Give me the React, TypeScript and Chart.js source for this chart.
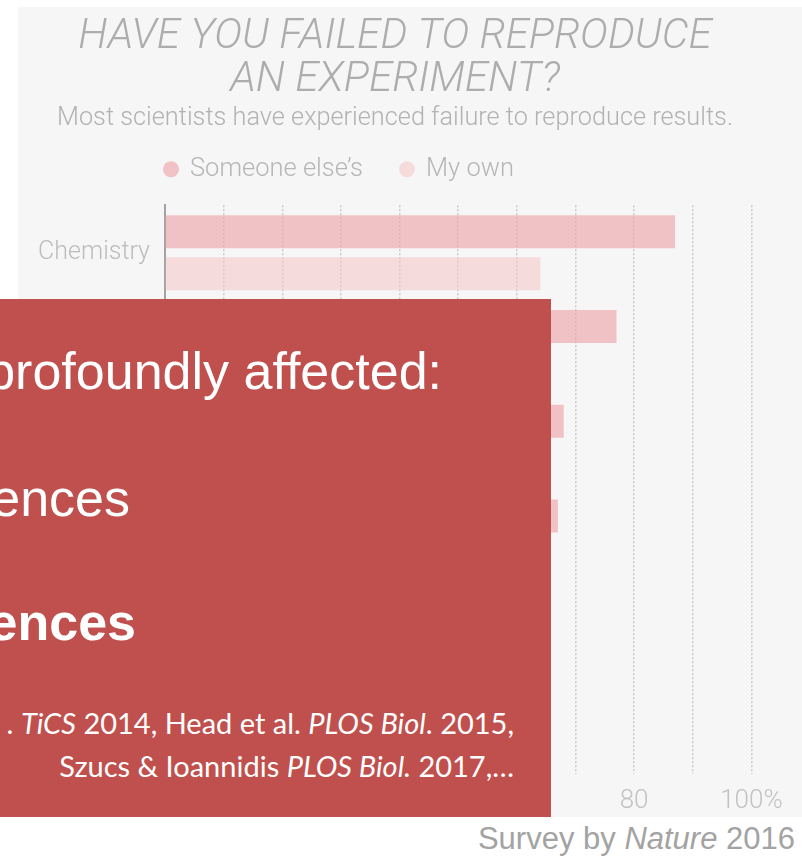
import React, { useEffect, useRef } from "react";
import { Chart, registerables } from "chart.js";

Chart.register(...registerables);

// Survey data: share of respondents who failed to reproduce an experiment
const categories = [
  "Chemistry",
  "Biology",
  "Physics and engineering",
  "Medicine",
  "Earth and environment",
  "Other",
];
const someoneElses = [87, 77, 68, 67, 64, 62];
const myOwn = [64, 60, 51, 56, 41, 44];
const seriesNames = ["Someone else\u2019s", "My own"];
const labeledTicks = [0, 20, 40, 60, 80, 100];
const titleLines = ["HAVE YOU FAILED TO REPRODUCE", "AN EXPERIMENT?"];
const subtitleText = "Most scientists have experienced failure to reproduce results.";

const CHART_FONT = "Roboto, 'Liberation Sans', sans-serif";

// Round dot legend sitting above the plot, aligned with the value axis origin
const dotLegend = {
  id: "dotLegend",
  afterDraw(chart: any) {
    const { ctx, chartArea } = chart;
    ctx.save();
    ctx.font = `300 25.5px ${CHART_FONT}`;
    ctx.textBaseline = "middle";
    ctx.textAlign = "left";
    let x = chartArea.left + 6;
    const y = chartArea.top - 36;
    chart.data.datasets.forEach((ds: any) => {
      ctx.fillStyle = ds.backgroundColor;
      ctx.beginPath();
      ctx.arc(x, y, 8, 0, Math.PI * 2);
      ctx.fill();
      ctx.fillStyle = "#b6b6b6";
      ctx.fillText(ds.label, x + 19, y);
      x += 19 + ctx.measureText(ds.label).width + 44;
    });
    ctx.restore();
  },
};

function ReproducibilityChart() {
  const ref = useRef<HTMLCanvasElement | null>(null);

  useEffect(() => {
    if (!ref.current) return;
    const chart = new Chart(ref.current, {
      type: "bar",
      data: {
        labels: categories,
        datasets: [
          {
            label: seriesNames[0],
            data: someoneElses,
            backgroundColor: "rgba(238,160,165,0.6)",
            categoryPercentage: 0.886,
            barPercentage: 0.786,
          },
          {
            label: seriesNames[1],
            data: myOwn,
            backgroundColor: "rgba(246,196,200,0.55)",
            categoryPercentage: 0.886,
            barPercentage: 0.786,
          },
        ],
      },
      options: {
        indexAxis: "y",
        responsive: false,
        animation: false,
        devicePixelRatio: 1,
        layout: { padding: 0 },
        plugins: {
          legend: { display: false },
          tooltip: { enabled: false },
          title: {
            display: true,
            text: titleLines,
            color: "#adadad",
            font: { family: CHART_FONT, size: 42.3, weight: "300", style: "italic", lineHeight: 1.02 },
            padding: { top: 16, bottom: 1.5 },
          },
          subtitle: {
            display: true,
            text: subtitleText,
            color: "#b2b2b2",
            font: { family: CHART_FONT, size: 25.3, weight: "300", lineHeight: 1.2 },
            padding: { top: 0, bottom: 71.1 },
          },
        },
        scales: {
          x: {
            min: 0,
            max: 100,
            grid: {
              drawTicks: false,
              lineWidth: 1.5,
              color: (c: any) => (c.tick && c.tick.value === 0 ? "rgba(0,0,0,0)" : "#cacaca"),
            },
            border: { display: false, dash: [2, 2] },
            ticks: {
              stepSize: 10,
              autoSkip: false,
              maxRotation: 0,
              padding: 12,
              color: "#c2c2c2",
              font: { family: CHART_FONT, size: 26, weight: "300" },
              callback: (v: any) =>
                labeledTicks.includes(Number(v)) ? (Number(v) === 100 ? "100%" : String(v)) : "",
            },
            afterFit: (scale: any) => {
              scale.height = 43;
              scale.paddingRight = 38.6;
              scale.paddingLeft = 0;
            },
          },
          y: {
            grid: { display: false, drawTicks: false },
            border: { display: true, color: "#a3a3a3", width: 2 },
            ticks: {
              padding: 15,
              color: "#bcbcbc",
              font: { family: CHART_FONT, size: 25, weight: "300" },
            },
            afterFit: (scale: any) => {
              scale.width = 165;
            },
          },
        },
      },
      plugins: [dotLegend],
    });
    return () => chart.destroy();
  }, []);

  return (
    <canvas
      ref={ref}
      width={790}
      height={817}
      style={{ position: "absolute", left: 0, top: 0, width: 790, height: 817 }}
    />
  );
}

const calloutText: React.CSSProperties = {
  position: "absolute",
  whiteSpace: "nowrap",
  color: "#ffffff",
  fontFamily: "'Liberation Sans', Arial, sans-serif",
  fontSize: 52,
  lineHeight: "52px",
};

const citeText: React.CSSProperties = {
  position: "absolute",
  right: 37,
  whiteSpace: "nowrap",
  color: "#ffffff",
  fontFamily: "Lato, 'Open Sans', sans-serif",
  fontSize: 29,
  lineHeight: "29px",
  textAlign: "right",
};

export default function App() {
  return (
    <div
      style={{
        position: "absolute",
        left: 0,
        top: 0,
        width: 802,
        height: 856,
        background: "#ffffff",
        overflow: "hidden",
      }}
    >
      <div
        style={{
          position: "absolute",
          left: 18,
          top: 7,
          width: 784,
          height: 810,
          background: "#f6f6f6",
        }}
      />
      <ReproducibilityChart />
      <div
        style={{
          position: "absolute",
          left: 0,
          top: 299,
          width: 551,
          height: 518,
          background: "#c0504d",
          overflow: "hidden",
        }}
      >
        <div style={{ ...calloutText, right: 109, top: 46 }}>profoundly affected:</div>
        <div style={{ ...calloutText, right: 421, top: 173 }}>ences</div>
        <div style={{ ...calloutText, right: 415, top: 297, fontWeight: 700 }}>ences</div>
        <div style={{ ...citeText, top: 409 }}>
          . <i>TiCS</i> 2014, Head et al. <i>PLOS Biol</i>. 2015,
        </div>
        <div style={{ ...citeText, top: 452 }}>
          Szucs &amp; Ioannidis <i>PLOS Biol.</i> 2017,…
        </div>
      </div>
      <div
        style={{
          position: "absolute",
          right: 7,
          top: 823,
          whiteSpace: "nowrap",
          color: "#a3a3a3",
          fontFamily: "'Liberation Sans', Arial, sans-serif",
          fontSize: 31,
          lineHeight: "31px",
        }}
      >
        Survey by <i>Nature</i> 2016
      </div>
    </div>
  );
}
